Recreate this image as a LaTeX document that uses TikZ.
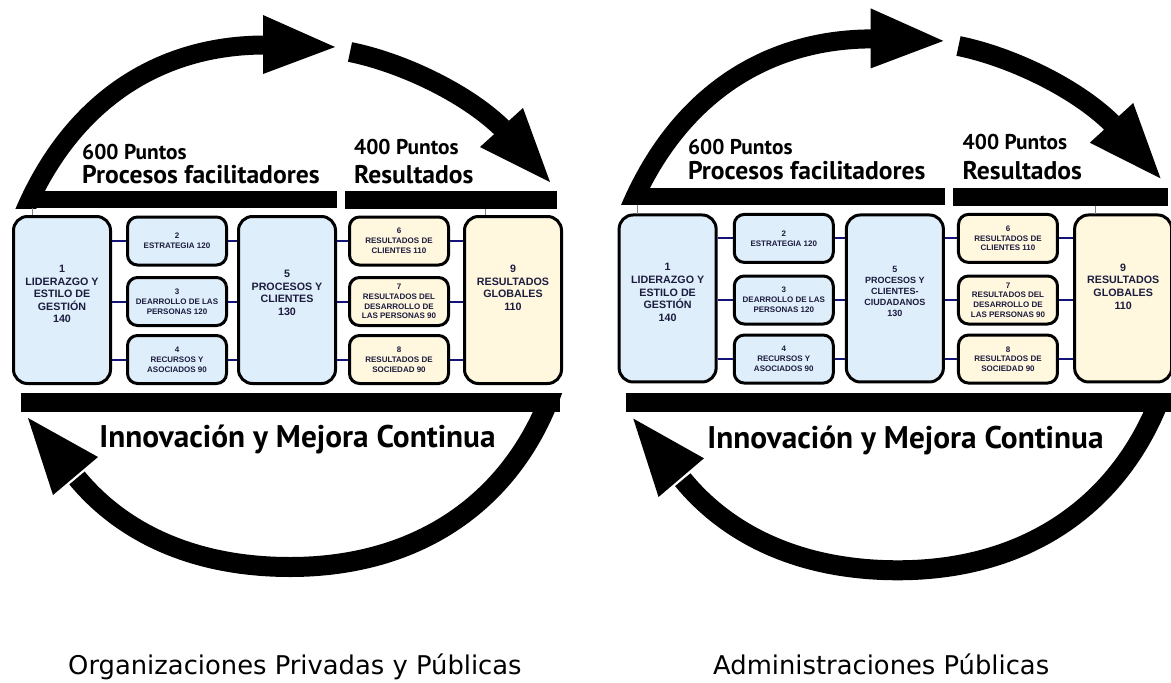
\documentclass[tikz,border=0pt]{standalone}
\usepackage{fontspec}
\setmainfont{Liberation Sans}
\newfontfamily\gillfont{PT Sans}
\newfontfamily\piefont{DejaVu Sans}
\usetikzlibrary{positioning}
\definecolor{azul_caja}{RGB}{223,238,251}
\definecolor{crema_caja}{RGB}{255,247,222}
\definecolor{azul_enlace}{RGB}{20,20,120}
\definecolor{texto_caja}{RGB}{28,28,62}
\tikzset{
        caja/.style={draw=black, line width=3pt, align=center, inner sep=0pt, text=texto_caja},
        % Boxes 1, 5 and 9
        caja_grande/.style={caja, rounded corners=14pt, minimum width=97pt, minimum height=167pt},
        % Boxes 2-4 and 6-8
        caja_chica/.style={caja, rounded corners=10pt, minimum width=99pt, minimum height=48pt, font=\bfseries\fontsize{8}{9.8}\selectfont},
        texto_grande/.style={align=center, inner sep=0pt, text=texto_caja, font=\bfseries\fontsize{10.7}{12.6}\selectfont},
        facilitador/.style={fill=azul_caja},
        resultado/.style={fill=crema_caja},
        enlace/.style={draw=azul_enlace, line width=2pt},
        tick/.style={draw=gray, line width=0.7pt},
        flecha/.style={draw=black, line width=19pt},
        titulo/.style={font=\gillfont\bfseries\fontsize{25.6}{25.6}\selectfont, anchor=base west, inner sep=0pt},
        titulo_chico/.style={titulo, font=\gillfont\bfseries\fontsize{21.4}{21.4}\selectfont},
        lema/.style={font=\gillfont\bfseries\fontsize{31.3}{31.3}\selectfont, anchor=base, inner sep=0pt},
        pie/.style={font=\piefont\fontsize{25.8}{26}\selectfont, anchor=base west, inner sep=0pt},
        % One whole model: #1 = font of box 5, #2 = text of box 5
        pics/efqm/.style n args={2}{code={
            % Upper arrows
            \begin{scope}
                \clip (0,0) rectangle (600,208);
                \draw[flecha, line width=19pt] (24,213) .. controls (72,100) and (160,45) .. (265,45);
            \end{scope}
            \fill (263,15) -- (335,47) -- (263,74) -- cycle;
            \draw[flecha, line width=20pt] (350,52) .. controls (400,62) and (465,92) .. (502,128);
            \fill (480,147) -- (523,108) -- (550,182) -- cycle;
            % Lower arrow
            \begin{scope}
                \clip (0,393) rectangle (600,700);
                \draw[flecha, line width=20pt] (554,386) .. controls (515,500) and (420,567) .. (290,567)
                    .. controls (190,567) and (120,530) .. (77,478);
            \end{scope}
            \fill (28,418) -- (98,457) -- (53,495) -- cycle;
            % Bars
            \fill (25,191) rectangle (337,208);
            \fill (345,191) rectangle (557,209);
            \fill (21,393) rectangle (560,412);
            % Titles
            \node[titulo_chico] (-p600) at (82,159) {600 Puntos};
            \node[titulo] (-proc) at (82,183) {Procesos facilitadores};
            \node[titulo_chico] (-p400) at (354,154) {400 Puntos};
            \node[titulo] (-res) at (354,183) {Resultados};
            \node[lema] (-mejora) at (297.5,447) {Innovación y Mejora Continua};
            % Boxes
            \node[caja_grande, facilitador] (-b1) at (62,300) {};
            \node[caja_chica, facilitador] (-b2) at (177,241) {2\\ESTRATEGIA 120};
            \node[caja_chica, facilitador] (-b3) at (177,301.5) {3\\DEARROLLO DE LAS\\PERSONAS 120};
            \node[caja_chica, facilitador] (-b4) at (177,359.5) {4\\RECURSOS Y\\ASOCIADOS 90};
            \node[caja_grande, facilitador] (-b5) at (287,300) {};
            \node[caja_chica, resultado] (-b6) at (399,241) {6\\RESULTADOS DE\\CLIENTES 110};
            \node[caja_chica, resultado] (-b7) at (399,301.5) {7\\RESULTADOS DEL\\DESARROLLO DE\\LAS PERSONAS 90};
            \node[caja_chica, resultado] (-b8) at (399,359.5) {8\\RESULTADOS DE\\SOCIEDAD 90};
            \node[caja_grande, resultado] (-b9) at (513,300) {};
            \node[texto_grande, yshift=6pt] (-t1) at (-b1) {1\\LIDERAZGO Y\\ESTILO DE\\GESTIÓN\\140};
            \node[texto_grande, yshift=7pt, #1] (-t5) at (-b5) {#2};
            \node[texto_grande, yshift=12pt] (-t9) at (-b9) {9\\RESULTADOS\\GLOBALES\\110};
            % Links
            \foreach \i in {2,3,4} {
                \draw[enlace] (-b1.east |- -b\i.west) -- (-b\i.west);
                \draw[enlace] (-b\i.east) -- (-b5.west |- -b\i.east);
            }
            \foreach \i in {6,7,8} {
                \draw[enlace] (-b5.east |- -b\i.west) -- (-b\i.west);
                \draw[enlace] (-b\i.east) -- (-b9.west |- -b\i.east);
            }
            \coordinate (-m1) at (32,208);
            \coordinate (-m9) at (485,209);
            \draw[tick] (-m1) -- (-m1 |- -b1.north);
            \draw[tick] (-m9) -- (-m9 |- -b9.north);
        }}
}

\begin{document}
\begin{tikzpicture}[x=1pt, y=-1pt]
    \fill[white] (0,0) rectangle (1171,683);
    \useasboundingbox (0,0) rectangle (1171,683);
    \pic (izq) at (0,0) {efqm={}{5\\PROCESOS Y\\CLIENTES\\130}};
    \pic[xscale=1.01, yscale=1.018] (der) at (605,-6.93)
        {efqm={font=\bfseries\fontsize{9}{11}\selectfont}{5\\PROCESOS Y\\CLIENTES-\\CIUDADANOS\\130}};
    \node[pie] (pie izq) at (68,674) {Organizaciones Privadas y Públicas};
    \node[pie] (pie der) at (713,674) {Administraciones Públicas};
\end{tikzpicture}
\end{document}
